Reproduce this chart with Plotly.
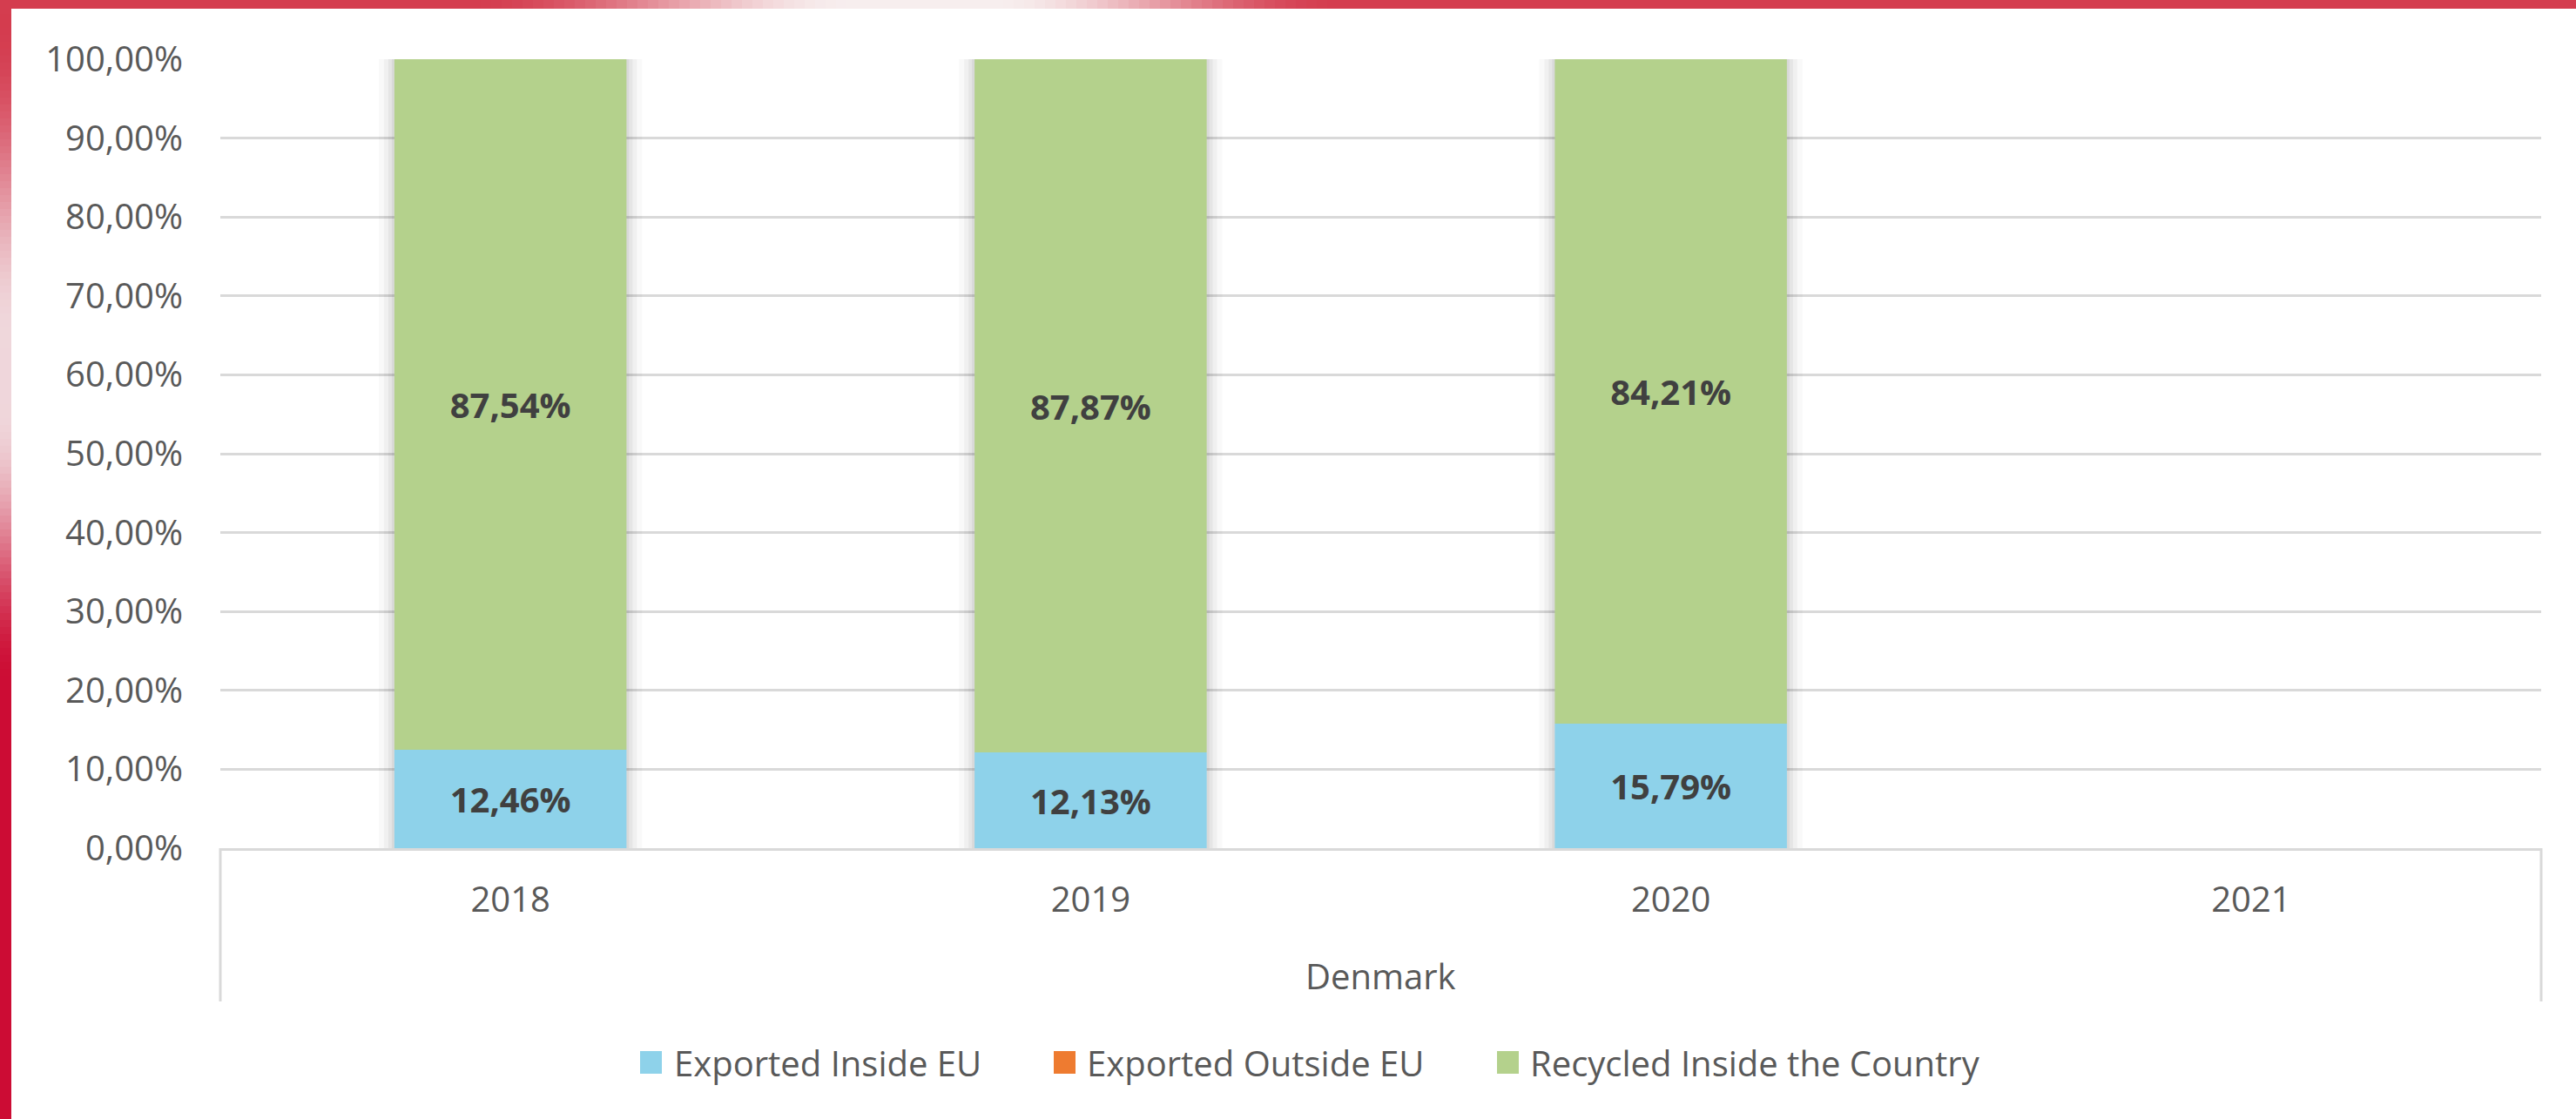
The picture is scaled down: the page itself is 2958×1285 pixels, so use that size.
import plotly.graph_objects as go

# ---- data -------------------------------------------------------------
years = ["2018", "2019", "2020", "2021"]
exported_inside_eu = [0.1246, 0.1213, 0.1579, None]
exported_outside_eu = [0.0, 0.0, 0.0, None]
recycled_inside_country = [0.8754, 0.8787, 0.8421, None]
group_label = "Denmark"

series_names = ["Exported Inside EU", "Exported Outside EU", "Recycled Inside the Country"]
series_colors = ["#8ed2ea", "#ee7b30", "#b4d18c"]

# ---- page geometry (pixels) -------------------------------------------
W, H = 2958, 1285
PLOT_L, PLOT_R = 253, 2918
PLOT_T, PLOT_B = 68, 974
BOX_B = 1150
BAR_W = 0.4
FONT = "Open Sans"
GRID = "#d9d9d9"
LABEL = "#595959"


def px(x):
    return x / W


def py(y):
    return 1 - y / H


def stacked_bases(*cols):
    bases, run = [], [0.0] * len(cols[0])
    for col in cols:
        bases.append([None if v is None else r for v, r in zip(col, run)])
        run = [r if v is None else r + v for v, r in zip(col, run)]
    return bases, [r if r > 0 else None for r in run]


series = [exported_inside_eu, exported_outside_eu, recycled_inside_country]
bases, totals = stacked_bases(*series)

fig = go.Figure()

# soft drop shadow behind each column
cat_px = (PLOT_R - PLOT_L) / len(years)
for spread, alpha in [(18, 0.025), (12, 0.035), (7, 0.045), (3, 0.05)]:
    fig.add_trace(go.Bar(
        x=years, y=totals, base=0, width=BAR_W + 2 * spread / cat_px,
        marker=dict(color=f"rgba(0,0,0,{alpha})", line=dict(width=0)),
        showlegend=False, hoverinfo="skip",
    ))

# stacked segments
show_text = [True, False, True]
for vals, base, name, color, lab in zip(series, bases, series_names, series_colors, show_text):
    fig.add_trace(go.Bar(
        x=years, y=vals, base=base, name=name, width=BAR_W,
        marker=dict(color=color, line=dict(width=0)),
        texttemplate="%{y:.2%}" if lab else None,
        textposition="inside" if lab else "none",
        insidetextanchor="middle",
        textangle=0,
        textfont=dict(family=FONT, size=40, color="#404040", weight="bold"),
        showlegend=False,
    ))

shapes = []

# category box under the axis
for xv in (PLOT_L, PLOT_R):
    shapes.append(dict(type="line", xref="paper", yref="paper",
                       x0=px(xv), x1=px(xv), y0=py(PLOT_B), y1=py(BOX_B),
                       line=dict(color=GRID, width=3)))


def mix(c1, c2, t):
    a = [int(c1[i:i + 2], 16) for i in (1, 3, 5)]
    b = [int(c2[i:i + 2], 16) for i in (1, 3, 5)]
    return "#" + "".join(f"{round(a[k] + (b[k] - a[k]) * t):02x}" for k in range(3))


def ramp(v, a, b, c, d):
    if v <= a or v >= d:
        return 0.0
    if v < b:
        t = (v - a) / (b - a)
    elif v <= c:
        return 1.0
    else:
        t = (d - v) / (d - c)
    return t * t * (3 - 2 * t)


RED = "#d43d4f"
CRIMSON = "#cc0c34"
PALE = "#f7eeee"

# decorative frame: top band
step = 12
for x in range(0, W, step):
    t = ramp(x + step / 2, 540, 980, 1140, 1540)
    shapes.append(dict(type="rect", xref="paper", yref="paper",
                       x0=px(x), x1=px(min(x + step + 1, W)), y0=py(10), y1=1,
                       line=dict(width=0), fillcolor=mix(RED, PALE, t), layer="above"))

# decorative frame: left band
step = 8
for y in range(0, H, step):
    base_hex = mix(RED, CRIMSON, min(1.0, y / 800))
    t = 0.92 * ramp(y + step / 2, 20, 380, 470, 780)
    shapes.append(dict(type="rect", xref="paper", yref="paper",
                       x0=0, x1=px(13), y0=py(min(y + step + 1, H)), y1=py(y),
                       line=dict(width=0), fillcolor=mix(base_hex, "#f2e6e8", t), layer="above"))

annotations = [dict(
    text=group_label, xref="paper", yref="paper",
    x=px((PLOT_L + PLOT_R) / 2), y=py(1120), xanchor="center", yanchor="middle",
    showarrow=False, font=dict(family=FONT, size=40, color=LABEL),
)]

# legend drawn as swatches + labels
legend_swatch_x = [735, 1210, 1719]
legend_text_x = [772, 1246, 1755]
LEG_Y = 1220
for name, color, sx, tx in zip(series_names, series_colors, legend_swatch_x, legend_text_x):
    shapes.append(dict(type="rect", xref="paper", yref="paper",
                       x0=px(sx), x1=px(sx + 25), y0=py(LEG_Y + 13), y1=py(LEG_Y - 13),
                       line=dict(width=0), fillcolor=color))
    annotations.append(dict(
        text=name, xref="paper", yref="paper", x=px(tx), y=py(LEG_Y),
        xanchor="left", yanchor="middle", showarrow=False,
        font=dict(family=FONT, size=40, color=LABEL),
    ))

fig.update_layout(
    width=W, height=H,
    autosize=False,
    margin=dict(l=0, r=0, t=0, b=0, pad=0),
    paper_bgcolor="white", plot_bgcolor="white",
    barmode="overlay",
    separators=",.",
    font=dict(family=FONT, color=LABEL),
    shapes=shapes,
    annotations=annotations,
    xaxis=dict(
        domain=[px(PLOT_L), px(PLOT_R)],
        automargin=False,
        type="category", categoryorder="array", categoryarray=years,
        range=[-0.5, len(years) - 0.5],
        showline=True, linecolor=GRID, linewidth=3,
        showgrid=False, ticks="", ticklen=0,
        tickfont=dict(family=FONT, size=40, color=LABEL),
        ticklabelstandoff=22,
        fixedrange=True,
    ),
    yaxis=dict(
        domain=[py(PLOT_B), py(PLOT_T)],
        automargin=False,
        range=[0, 1], dtick=0.1, tick0=0,
        tickformat=".2%",
        showgrid=True, gridcolor=GRID, gridwidth=3,
        zeroline=False, showline=False, ticks="",
        tickfont=dict(family=FONT, size=40, color=LABEL),
        ticklabelstandoff=42,
        fixedrange=True,
    ),
    showlegend=False,
)

fig.write_html("out.html", config={"responsive": False, "displayModeBar": False})
